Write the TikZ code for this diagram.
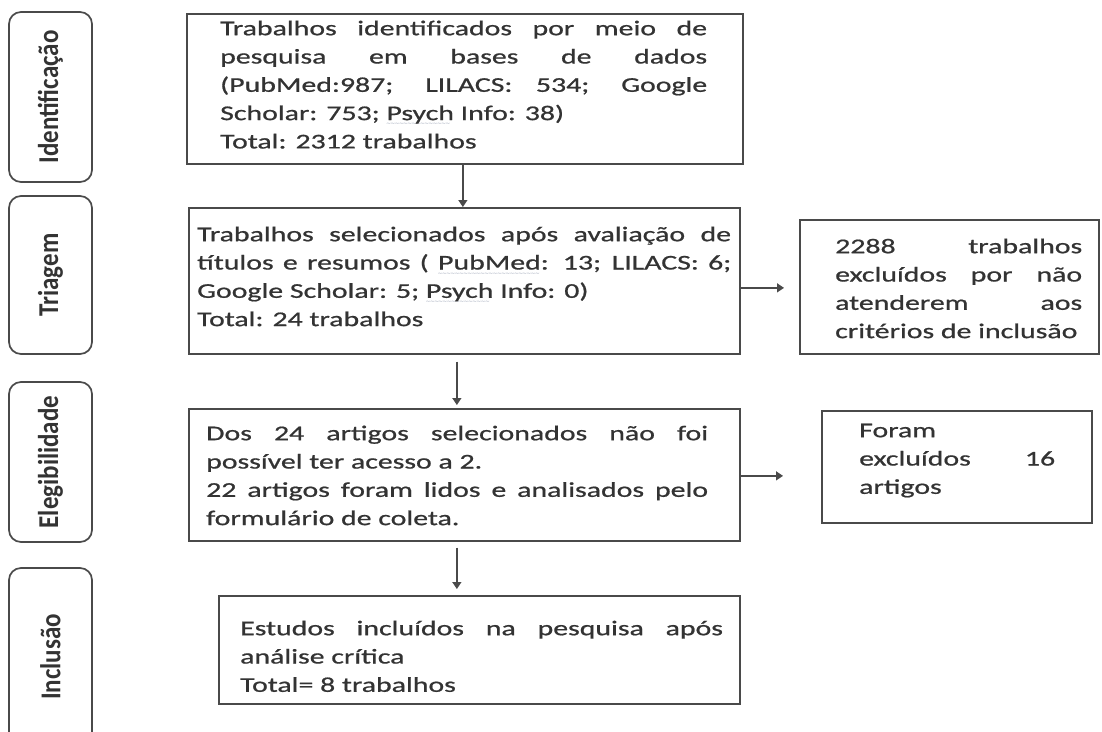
\documentclass[tikz,border=0pt]{standalone}
\usepackage{fontspec}
\setmainfont{Carlito}
\newfontfamily\bodyfont[FakeStretch=1.42,FakeBold=0.8]{Carlito}
\newfontfamily\sqfont{DejaVu Sans}
\usetikzlibrary{arrows.meta,calc}
\definecolor{ln}{HTML}{4A4A4A}
\definecolor{tx}{HTML}{333333}
\definecolor{sqc}{HTML}{A4ACBC}
\newsavebox\sqbox
\newcommand\sqw[1]{\sbox\sqbox{#1}\rlap{\raisebox{-5.5pt}{\color{sqc}\sqfont\fontsize{6}{6}\selectfont\leaders\hbox{\kern-0.4pt\char"223C\kern-0.4pt}\hskip\wd\sqbox}}\usebox\sqbox}
\hyphenpenalty=10000
\exhyphenpenalty=10000
\begin{document}
\begin{tikzpicture}[x=1pt,y=-1pt,
  box/.style={draw=ln, line width=1.7pt, anchor=north west, inner sep=0pt},
  side/.style={draw=ln, line width=1.7pt, rounded corners=12pt, rotate=90, inner sep=0pt,
    minimum height=83pt, text=tx, font=\fontsize{25}{30}\selectfont\bfseries},
  txt/.style={anchor=north west, inner sep=0pt, align=justify, text=tx,
    font=\bodyfont\fontsize{21}{28.3}\selectfont},
  arr/.style={draw=ln, line width=1.4pt, -{Triangle[length=7pt,width=9pt]}}]
\useasboundingbox (0,0) rectangle (1102,731);
\clip (0,0) rectangle (1102,731);

% stage labels
\node[side, minimum width=170pt] (s1) at (50.5,97) {\scalebox{1}[1.15]{Identificação}};
\node[side, minimum width=158pt] (s2) at (50.5,275) {\scalebox{1}[1.15]{Triagem}};
\node[side, minimum width=160pt] (s3) at (50.5,462) {\scalebox{1}[1.15]{Elegibilidade}};
\node[side, minimum width=178pt] (s4) at (50.5,657) {\scalebox{1}[1.15]{Inclusão}};

% boxes
\node[box, minimum width=556pt, minimum height=150pt] (b1) at (186,13) {};
\node[box, minimum width=551pt, minimum height=146pt] (b2) at (188,207) {};
\node[box, minimum width=299pt, minimum height=134pt] (x1) at (799,219) {};
\node[box, minimum width=551pt, minimum height=132pt] (b3) at (188,408) {};
\node[box, minimum width=270pt, minimum height=112pt] (x2) at (821,410) {};
\node[box, minimum width=521pt, minimum height=108pt] (b4) at (218,595) {};

% texts
\node[txt, text width=487pt] (t1) at (220,15.2) {\strut Trabalhos identificados por meio de\linebreak
pesquisa em bases de dados\linebreak
(PubMed:987; LILACS: 534; Google\linebreak
Scholar: 753; \sqw{Psych} Info: 38)\\
Total: 2312 trabalhos};
\node[txt, text width=534pt] (t2) at (197,221.2) {\strut Trabalhos selecionados após avaliação de\linebreak
títulos e resumos ( \sqw{PubMed}: 13; LILACS: 6;\linebreak
Google Scholar: 5; \sqw{Psych} Info: 0)\\
Total: 24 trabalhos};
\node[txt, text width=247pt] (tx1) at (835,233.2) {\strut 2288 trabalhos\linebreak
excluídos por não\linebreak
atenderem aos\linebreak
\mbox{critérios de inclusão}};
\node[txt, text width=502pt] (t3) at (206,420.2) {\strut Dos 24 artigos selecionados não foi\linebreak
possível ter acesso a 2.\\
22 artigos foram lidos e analisados pelo\linebreak
formulário de coleta.};
\node[txt, text width=196pt] (tx2) at (859,417.2) {\strut Foram\\
excluídos 16\linebreak
artigos};
\node[txt, text width=483pt] (t4) at (240,615.2) {\strut Estudos incluídos na pesquisa após\linebreak
análise crítica\\
Total= 8 trabalhos};

% arrows
\draw[arr] ($(b1.south)+(-2,0)$) -- ($(b2.north)+(-1.5,0)$);
\draw[arr] ($(b2.south)+(-7.5,7)$) -- ($(b3.north)+(-7.5,-3)$);
\draw[arr] ($(b3.south)+(-7.5,6)$) -- ($(b4.north)+(-22.5,-6)$);
\draw[arr] ($(b2.east)+(0,7)$) -- ($(x1.west)+(-15,1)$);
\draw[arr] ($(b3.east)+(0,1)$) -- ($(x2.west)+(-38,9)$);
\end{tikzpicture}
\end{document}
